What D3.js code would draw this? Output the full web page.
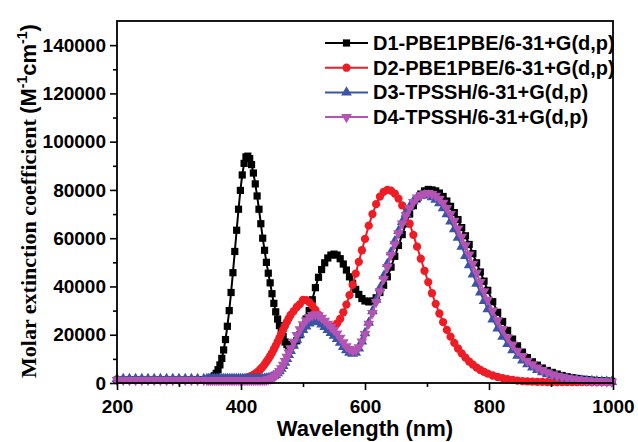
<!DOCTYPE html>
<html>
<head>
    <meta charset="utf-8">
    <title>Molar extinction coefficient</title>
    <script src="https://cdnjs.cloudflare.com/ajax/libs/d3/7.8.5/d3.min.js"></script>
    <style>
        body { margin: 0; background: #fff; }
        .axis text { font-family: "Liberation Sans", Arial, sans-serif; font-weight: bold; fill: #000; }
        .axis path, .axis line { stroke: #000; stroke-width: 1.6px; }
    </style>
</head>
<body>
<script type="text/javascript">
    // wavelength grid (nm), denser at short wavelength like the original export
    var wavelength = [
        200, 210, 220, 230, 240, 250, 260, 270, 280, 290, 300, 310, 320, 330, 340,
        345, 348, 351, 354, 357, 360, 363, 366, 369, 372, 375, 378, 381, 384, 387, 390,
        393, 396, 399, 402, 405, 408, 411, 414, 417, 420, 423, 426, 429, 432, 435,
        438, 441, 444, 447, 450, 453, 456, 459, 462, 465, 468, 471, 474, 477, 480,
        485, 490, 495, 500, 505, 510, 515, 520, 525, 530, 535, 540, 545, 550, 555, 560, 565, 570, 575, 580, 585, 590, 595, 600,
        606, 612, 618, 624, 630, 636, 642, 648, 654, 660, 666, 672, 678, 684, 690, 696, 702,
        708, 714, 720, 726, 732, 738, 744, 750, 756, 762, 768, 774, 780, 786, 792, 798,
        806, 814, 822, 830, 838, 846, 854, 862, 870, 878, 886, 894, 902, 910, 918, 926, 934, 942, 950, 958, 966, 974, 982, 990, 998
    ];

    var d1Abs = [
        1200, 1200, 1200, 1200, 1200, 1200, 1200, 1200, 1200, 1200, 1200, 1200, 1200, 1200, 1300,
        1400, 1600, 1900, 2300, 3000, 4000, 5500, 7500, 10200, 13700, 18000, 23500, 30000, 37500, 45700, 54500,
        63300, 72000, 79800, 86200, 91000, 93700, 94000, 93000, 90500, 87000, 82500, 77500, 72000, 66000, 60000,
        55000, 50000, 45500, 41500, 37000, 33000, 29500, 26500, 23800, 21300, 19200, 17000, 15900, 15300, 15200,
        15900, 17500, 20000, 23000, 26500, 30000, 34500, 39500, 43800, 47000, 49800, 51800, 53000, 53400, 53000, 51500, 49300, 46800, 44000, 41300, 38800, 36700, 35000, 34000,
        33600, 34000, 35300, 37500, 40500, 44000, 48000, 52500, 57000, 61500, 66000, 70000, 73500, 76300, 78300, 79600, 80200,
        80000, 79600, 78700, 77300, 75400, 73200, 70600, 67700, 64400, 61000, 57400, 53600, 49800, 46000, 42200, 38400,
        33700, 29300, 25500, 21800, 18200, 15400, 12800, 10500, 8800, 7400, 6200, 5200, 4400, 3700, 3100, 2600, 2200, 1900, 1600, 1400, 1200, 1000, 900, 800, 700
    ];

    var d2Abs = [
        1200, 1200, 1200, 1200, 1200, 1200, 1200, 1200, 1200, 1200, 1200, 1200, 1200, 1200, 1200,
        1200, 1200, 1200, 1200, 1200, 1200, 1200, 1200, 1200, 1200, 1200, 1200, 1250, 1250, 1300, 1350,
        1400, 1450, 1550, 1700, 1850, 2050, 2300, 2600, 2950, 3350, 3850, 4400, 5100, 5900, 6700,
        7700, 8800, 9900, 11200, 12500, 14000, 15500, 17100, 18800, 20400, 22100, 23700, 25300, 26800, 28200,
        29800, 31500, 32700, 34400, 34300, 33500, 32100, 30300, 28300, 26300, 24800, 23700, 23200, 23500, 24700, 26600, 29300, 32500, 36400, 40700, 45300, 50200, 55000, 59700,
        65200, 70000, 74100, 77200, 79200, 80000, 79700, 78500, 76400, 73600, 70100, 66000, 61400, 56500, 51500, 46500, 41800,
        37200, 32800, 28800, 25200, 22000, 19200, 16600, 14300, 12300, 10500, 8900, 7600, 6400, 5400, 4600, 3900,
        3100, 2500, 2000, 1600, 1300, 1000, 800, 650, 550, 500, 450, 400, 400, 400, 400, 400, 400, 400, 400, 400, 400, 400, 400, 400, 400
    ];

    var d3Abs = [
        1700, 1700, 1700, 1700, 1700, 1700, 1700, 1700, 1700, 1700, 1700, 1700, 1700, 1700, 1700,
        1700, 1700, 1700, 1700, 1700, 1700, 1700, 1700, 1700, 1700, 1700, 1700, 1700, 1700, 1700, 1700,
        1700, 1700, 1700, 1700, 1700, 1700, 1700, 1700, 1700, 1700, 1700, 1700, 1700, 1700, 1700,
        1800, 1900, 2000, 2200, 2500, 2900, 3400, 4100, 4900, 5900, 7100, 8400, 10000, 11600, 13300,
        15500, 18000, 20100, 22000, 23500, 24700, 25400, 25600, 25200, 24300, 23200, 22000, 20800, 19600, 18300, 16700, 15000, 13600, 12600, 12200, 12600, 14300, 17200, 20700,
        25000, 29800, 34500, 39300, 44300, 49300, 54200, 58800, 63000, 66800, 70200, 73000, 75200, 76800, 77600, 77900, 77700,
        77000, 76000, 74500, 72500, 70000, 67000, 63700, 60200, 56500, 52700, 48800, 45000, 41200, 37500, 34000, 30600,
        26400, 22600, 19200, 16200, 13600, 11300, 9400, 7800, 6500, 5400, 4500, 3700, 3100, 2600, 2200, 1800, 1500, 1300, 1100, 900, 800, 700, 600, 550, 500
    ];

    var d4Abs = [
        1200, 1200, 1200, 1200, 1200, 1200, 1200, 1200, 1200, 1200, 1200, 1200, 1200, 1200, 1200,
        1200, 1200, 1200, 1200, 1200, 1200, 1200, 1200, 1200, 1200, 1200, 1200, 1200, 1200, 1200, 1200,
        1200, 1200, 1200, 1200, 1200, 1200, 1200, 1200, 1200, 1200, 1200, 1200, 1200, 1200, 1200,
        1250, 1350, 1500, 1700, 2000, 2500, 3100, 3900, 4900, 6100, 7500, 9100, 10800, 12600, 14400,
        17000, 19800, 22200, 24300, 26000, 27300, 28100, 28400, 28000, 27000, 25800, 24500, 23200, 21900, 20500, 18700, 16800, 15200, 14000, 13400, 13500, 14800, 17200, 20300,
        24500, 29000, 33500, 38000, 43000, 48000, 53000, 57500, 62000, 66000, 69500, 72500, 75000, 76800, 77900, 78500, 78700,
        78300, 77500, 76300, 74600, 72500, 70000, 67200, 64000, 60600, 57000, 53200, 49400, 45600, 41800, 38000, 34500,
        30000, 26000, 22300, 18900, 15900, 13300, 11100, 9200, 7700, 6400, 5300, 4400, 3600, 3000, 2500, 2100, 1800, 1500, 1300, 1100, 900, 800, 700, 600, 500
    ];

    var seriesNames = [
        "D1-PBE1PBE/6-31+G(d,p)",
        "D2-PBE1PBE/6-31+G(d,p)",
        "D3-TPSSH/6-31+G(d,p)",
        "D4-TPSSH/6-31+G(d,p)"
    ];

    var xTicks = [200, 400, 600, 800, 1000],
        xMinor = [300, 500, 700, 900],
        yTicks = [0, 20000, 40000, 60000, 80000, 100000, 120000, 140000],
        yMinor = [10000, 30000, 50000, 70000, 90000, 110000, 130000];

    var width = 638,
        height = 442,
        plotLeft = 117, plotRight = 613, plotTop = 21, plotBottom = 383;

    var x = d3.scaleLinear().domain([200, 1000]).range([plotLeft, plotRight]),
        y = d3.scaleLinear().domain([0, 150000]).range([plotBottom, plotTop]);

    var series = [
        {name: seriesNames[0], values: d1Abs, color: "#000000", symbol: d3.symbolSquare, size: 52, rot: 0},
        {name: seriesNames[1], values: d2Abs, color: "#ee1d25", symbol: d3.symbolCircle, size: 54, rot: 0},
        {name: seriesNames[2], values: d3Abs, color: "#3a55a5", symbol: d3.symbolTriangle, size: 50, rot: 0},
        {name: seriesNames[3], values: d4Abs, color: "#b353b3", symbol: d3.symbolTriangle, size: 50, rot: 180}
    ];

    var svg = d3.select("body").append("svg")
        .attr("width", width)
        .attr("height", height);

    var line = d3.line()
        .x(function(d, i){ return x(wavelength[i]); })
        .y(function(d){ return y(d); });

    series.forEach(function(s){
        svg.append("path")
            .attr("d", line(s.values))
            .attr("fill", "none")
            .attr("stroke", s.color)
            .attr("stroke-width", 2);

        svg.append("g").selectAll("path")
            .data(s.values)
          .enter().append("path")
            .attr("d", d3.symbol().type(s.symbol).size(s.size))
            .attr("fill", s.color)
            .attr("transform", function(d, i){
                return "translate(" + x(wavelength[i]) + "," + y(d) + ") rotate(" + s.rot + ")";
            });
    });

    // frame
    svg.append("rect")
        .attr("x", plotLeft).attr("y", plotTop)
        .attr("width", plotRight - plotLeft).attr("height", plotBottom - plotTop)
        .attr("fill", "none").attr("stroke", "#000").attr("stroke-width", 1.8);

    // axes
    svg.append("g")
        .attr("class", "axis")
        .attr("transform", "translate(0," + plotBottom + ")")
        .call(d3.axisBottom(x).tickValues(xTicks).tickSize(7).tickPadding(10).tickFormat(d3.format("d")))
        .call(function(g){ g.select(".domain").remove(); })
        .selectAll("text").style("font-size", "19px");

    svg.append("g")
        .attr("class", "axis")
        .attr("transform", "translate(0," + plotBottom + ")")
        .call(d3.axisBottom(x).tickValues(xMinor).tickSize(4).tickFormat(""))
        .call(function(g){ g.select(".domain").remove(); });

    svg.append("g")
        .attr("class", "axis")
        .attr("transform", "translate(" + plotLeft + ",0)")
        .call(d3.axisLeft(y).tickValues(yTicks).tickSize(7).tickPadding(4).tickFormat(d3.format("d")))
        .call(function(g){ g.select(".domain").remove(); })
        .selectAll("text").style("font-size", "19px");

    svg.append("g")
        .attr("class", "axis")
        .attr("transform", "translate(" + plotLeft + ",0)")
        .call(d3.axisLeft(y).tickValues(yMinor).tickSize(4).tickFormat(""))
        .call(function(g){ g.select(".domain").remove(); });

    // axis titles
    svg.append("text")
        .attr("x", 365)
        .attr("y", 436)
        .attr("text-anchor", "middle")
        .style("font-family", "'Liberation Sans', Arial, sans-serif")
        .style("font-weight", "bold")
        .style("font-size", "22px")
        .text("Wavelength (nm)");

    var yTitle = svg.append("text")
        .attr("transform", "translate(36,201) rotate(-90)")
        .attr("text-anchor", "middle")
        .style("font-weight", "bold")
        .style("font-size", "22px");
    yTitle.append("tspan")
        .style("font-family", "'Liberation Serif', 'Times New Roman', serif")
        .text("Molar extinction coefficient ");
    yTitle.append("tspan")
        .style("font-family", "'Liberation Sans', Arial, sans-serif")
        .text(" (M");
    yTitle.append("tspan")
        .style("font-family", "'Liberation Sans', Arial, sans-serif")
        .style("font-size", "14px").attr("dy", -9).text("-1");
    yTitle.append("tspan")
        .style("font-family", "'Liberation Sans', Arial, sans-serif")
        .attr("dy", 9).text("cm");
    yTitle.append("tspan")
        .style("font-family", "'Liberation Sans', Arial, sans-serif")
        .style("font-size", "14px").attr("dy", -9).text("-1");
    yTitle.append("tspan")
        .style("font-family", "'Liberation Sans', Arial, sans-serif")
        .attr("dy", 9).text(")");

    // legend
    var legend = svg.append("g").attr("transform", "translate(325,43)");
    series.forEach(function(s, i){
        var row = legend.append("g").attr("transform", "translate(0," + (i * 24.7) + ")");
        row.append("line")
            .attr("x1", 0).attr("x2", 43)
            .attr("stroke", s.color).attr("stroke-width", 2);
        row.append("path")
            .attr("d", d3.symbol().type(s.symbol).size(s.size)())
            .attr("fill", s.color)
            .attr("transform", "translate(21.5,0) rotate(" + s.rot + ")");
        row.append("text")
            .attr("x", 48).attr("y", 7)
            .style("font-family", "'Liberation Sans', Arial, sans-serif")
            .style("font-weight", "bold")
            .style("font-size", "20px")
            .text(s.name);
    });
</script>
</body>
</html>
